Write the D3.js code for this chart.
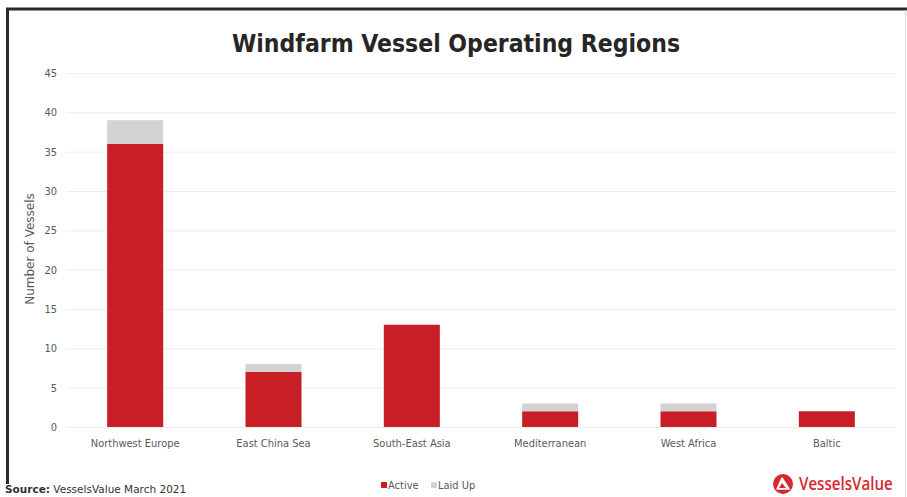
<!DOCTYPE html>
<html>
<head>
<meta charset="utf-8">
<script src="https://cdn.jsdelivr.net/npm/d3@7"></script>
<style>
  html, body { margin: 0; padding: 0; background: #fff; }
  svg { display: block; }
</style>
</head>
<body>
<svg id="chart" width="907" height="497"></svg>
<script>
// Vessel counts per operating region
const regions = ["Northwest Europe", "East China Sea", "South-East Asia", "Mediterranean", "West Africa", "Baltic"];
const active = [36, 7, 13, 2, 2, 2];
const laidUp = [3, 1, 0, 1, 1, 0];
const yTicks = [0, 5, 10, 15, 20, 25, 30, 35, 40, 45];
const seriesNames = ["Active", "Laid Up"];
const seriesColors = ["#c81f26", "#d3d3d3"];

const svg = d3.select("#chart");
const W = 907, H = 497;
const plot = { left: 66, right: 896, top: 73, bottom: 427 };
const condensed = "DejaVu Sans Condensed, DejaVu Sans, sans-serif";

// Frame
svg.append("rect").attr("x", 0).attr("y", 0).attr("width", W).attr("height", H).attr("fill", "#fff");
svg.append("line").attr("x1", 6).attr("x2", W).attr("y1", 9).attr("y2", 9)
  .attr("stroke", "#2a2a2a").attr("stroke-width", 3);
svg.append("line").attr("x1", 7.5).attr("x2", 7.5).attr("y1", 8).attr("y2", 484)
  .attr("stroke", "#2a2a2a").attr("stroke-width", 3);
svg.append("line").attr("x1", 905.5).attr("x2", 905.5).attr("y1", 10).attr("y2", H)
  .attr("stroke", "#d8d8d8").attr("stroke-width", 1);

// Title
svg.append("text").attr("x", 456).attr("y", 52).attr("text-anchor", "middle")
  .attr("font-family", condensed)
  .attr("font-weight", "bold").attr("font-size", 24.5).attr("fill", "#262626")
  .text("Windfarm Vessel Operating Regions");

const x = d3.scaleBand().domain(regions).range([plot.left, plot.right]).paddingInner(0.595).paddingOuter(0.2975);
const y = d3.scaleLinear().domain([0, 45]).range([plot.bottom, plot.top]);

// Gridlines
svg.append("g").selectAll("line").data(yTicks).join("line")
  .attr("x1", plot.left).attr("x2", plot.right)
  .attr("y1", d => y(d) + 0.5).attr("y2", d => y(d) + 0.5)
  .attr("stroke", "#ededed").attr("stroke-width", 1);

// Y axis
const yAxis = svg.append("g").attr("transform", `translate(${plot.left - 9},0)`)
  .call(d3.axisLeft(y).tickValues(yTicks).tickSize(0).tickPadding(0));
yAxis.select(".domain").remove();
yAxis.selectAll("text").attr("font-family", condensed)
  .attr("font-size", 11).attr("fill", "#595959");

// X axis
const xAxis = svg.append("g").attr("transform", `translate(0,${plot.bottom + 8})`)
  .call(d3.axisBottom(x).tickSize(0).tickPadding(4));
xAxis.select(".domain").remove();
xAxis.selectAll("text").attr("font-family", condensed)
  .attr("font-size", 11).attr("fill", "#595959");

// Stacked bars
const rows = regions.map((r, i) => ({ region: r, Active: active[i], "Laid Up": laidUp[i] }));
const stack = d3.stack().keys(seriesNames)(rows);
svg.append("g").selectAll("g").data(stack).join("g")
  .attr("fill", (d, i) => seriesColors[i])
  .selectAll("rect").data(d => d.filter(s => s[1] > s[0])).join("rect")
  .attr("x", d => x(d.data.region))
  .attr("width", x.bandwidth())
  .attr("y", d => y(d[1]))
  .attr("height", d => y(d[0]) - y(d[1]));

// Y axis title
svg.append("text").attr("transform", "translate(34,249) rotate(-90)")
  .attr("text-anchor", "middle")
  .attr("font-family", "DejaVu Sans, sans-serif")
  .attr("font-size", 12).attr("fill", "#595959")
  .text("Number of Vessels");

// Legend
const legend = svg.append("g").attr("transform", "translate(381,489)");
const items = [{ name: "Active", color: seriesColors[0], dx: 0 }, { name: "Laid Up", color: seriesColors[1], dx: 50 }];
items.forEach(it => {
  const g = legend.append("g").attr("transform", `translate(${it.dx},0)`);
  g.append("rect").attr("x", 0).attr("y", -7).attr("width", 6).attr("height", 6).attr("fill", it.color);
  g.append("text").attr("x", 7).attr("y", 0)
    .attr("font-family", condensed)
    .attr("font-size", 11).attr("fill", "#595959").text(it.name);
});

// Source note
const src = svg.append("text").attr("x", 5).attr("y", 493)
  .attr("font-family", "DejaVu Sans, sans-serif").attr("font-size", 10.5).attr("fill", "#333");
src.append("tspan").attr("font-weight", "bold").text("Source:");
src.append("tspan").text(" VesselsValue March 2021");

// Brand mark: icon plus horizontally compressed wordmark
const logo = svg.append("g").attr("transform", "translate(783,484)");
logo.append("circle").attr("r", 10).attr("fill", "#d7282f");
logo.append("path").attr("d", "M-1,-6 L6,5 L-6,5 Z").attr("fill", "#fff").attr("stroke", "#fff")
  .attr("stroke-width", 1.5).attr("stroke-linejoin", "round");
logo.append("path").attr("d", "M-1,-1 L3,4 L-4,4 Z").attr("fill", "#d7282f");
svg.append("g").attr("transform", "translate(799,490) scale(0.84,1)")
  .append("text").attr("x", 0).attr("y", 0)
  .attr("font-family", "Open Sans, sans-serif").attr("font-weight", 600)
  .attr("font-size", 18).attr("fill", "#d7282f")
  .text("VesselsValue");
</script>
</body>
</html>
